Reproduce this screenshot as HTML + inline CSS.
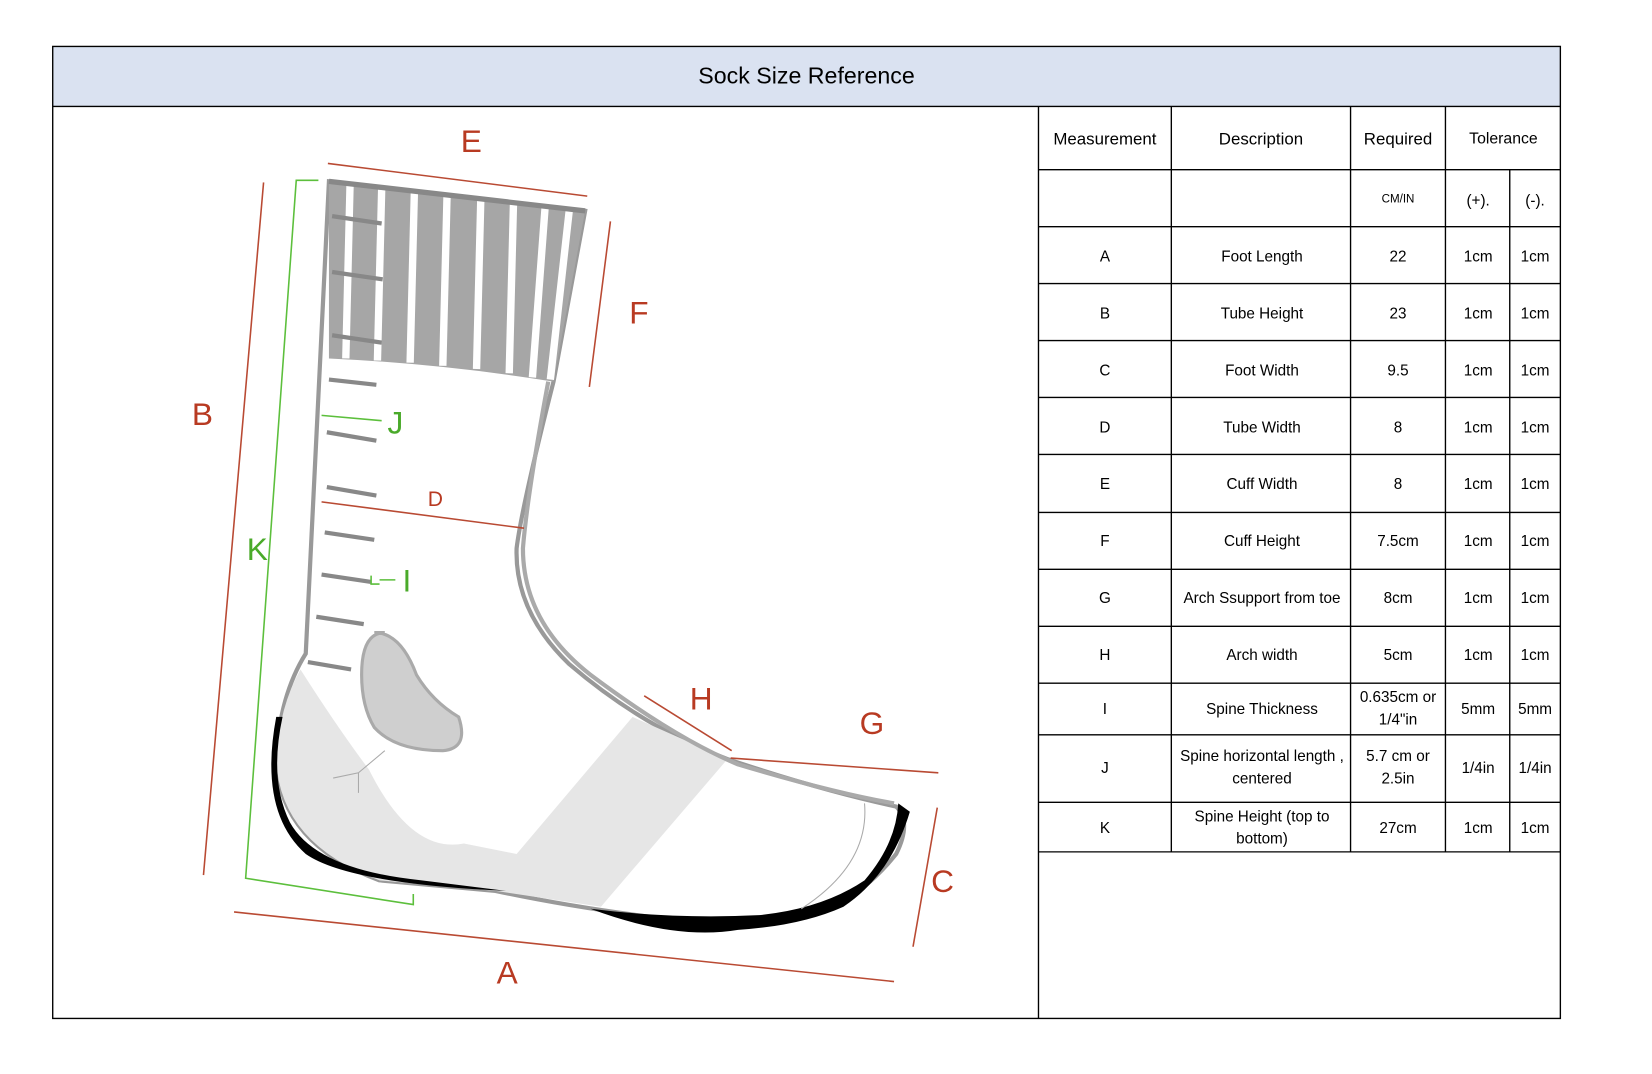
<!DOCTYPE html>
<html><head><meta charset="utf-8"><style>
html,body{margin:0;padding:0;background:#fff;width:1652px;height:1074px;overflow:hidden}
#w{position:absolute;left:0;top:0;width:1565px;height:1017px;transform:scale(1.0543);transform-origin:0 0}
svg{position:absolute;left:0;top:0}
</style></head><body><div id="w">
<svg width="1565" height="1017" viewBox="0 0 1565 1017" font-family="Liberation Sans, sans-serif">
<rect x="50" y="44" width="1430" height="57" fill="#dae2f1"/>
<g stroke="#000" stroke-width="1.3" fill="none">
<path d="M50 44H1480V966H50Z"/>
<path d="M50 101H1480"/>
<path d="M985 101V966"/>
<path d="M1111 101V808M1281 101V808M1371 101V808M1432 161V808"/>
<path d="M985 161H1480M985 215H1480M985 269H1480M985 323H1480M985 377H1480M985 431H1480M985 486H1480M985 540H1480M985 594H1480M985 648H1480M985 697H1480M985 761H1480M985 808H1480"/>
</g>
<text x="765" y="79" font-size="22" text-anchor="middle">Sock Size Reference</text>
<g font-size="16" text-anchor="middle">
<text x="1048" y="137">Measurement</text><text x="1196" y="137">Description</text><text x="1326" y="137">Required</text><text x="1426" y="136" font-size="15">Tolerance</text>
</g>
<g font-size="14.5" text-anchor="middle">
<text x="1326" y="192" font-size="11">CM/IN</text><text x="1402" y="195">(+).</text><text x="1456" y="195">(-).</text>
<text x="1048" y="248">A</text><text x="1197" y="248">Foot Length</text><text x="1326" y="248">22</text><text x="1402" y="248">1cm</text><text x="1456" y="248">1cm</text>
<text x="1048" y="302">B</text><text x="1197" y="302">Tube Height</text><text x="1326" y="302">23</text><text x="1402" y="302">1cm</text><text x="1456" y="302">1cm</text>
<text x="1048" y="356">C</text><text x="1197" y="356">Foot Width</text><text x="1326" y="356">9.5</text><text x="1402" y="356">1cm</text><text x="1456" y="356">1cm</text>
<text x="1048" y="410">D</text><text x="1197" y="410">Tube Width</text><text x="1326" y="410">8</text><text x="1402" y="410">1cm</text><text x="1456" y="410">1cm</text>
<text x="1048" y="464">E</text><text x="1197" y="464">Cuff Width</text><text x="1326" y="464">8</text><text x="1402" y="464">1cm</text><text x="1456" y="464">1cm</text>
<text x="1048" y="518">F</text><text x="1197" y="518">Cuff Height</text><text x="1326" y="518">7.5cm</text><text x="1402" y="518">1cm</text><text x="1456" y="518">1cm</text>
<text x="1048" y="572">G</text><text x="1197" y="572">Arch Ssupport from toe</text><text x="1326" y="572">8cm</text><text x="1402" y="572">1cm</text><text x="1456" y="572">1cm</text>
<text x="1048" y="626">H</text><text x="1197" y="626">Arch width</text><text x="1326" y="626">5cm</text><text x="1402" y="626">1cm</text><text x="1456" y="626">1cm</text>
<text x="1048" y="677">I</text><text x="1197" y="677">Spine Thickness</text><text x="1326" y="666">0.635cm or</text><text x="1326" y="687">1/4"in</text><text x="1402" y="677">5mm</text><text x="1456" y="677">5mm</text>
<text x="1048" y="733">J</text><text x="1197" y="722">Spine horizontal length ,</text><text x="1197" y="743">centered</text><text x="1326" y="722">5.7 cm or</text><text x="1326" y="743">2.5in</text><text x="1402" y="733">1/4in</text><text x="1456" y="733">1/4in</text>
<text x="1048" y="790">K</text><text x="1197" y="779">Spine Height (top to</text><text x="1197" y="800">bottom)</text><text x="1326" y="790">27cm</text><text x="1402" y="790">1cm</text><text x="1456" y="790">1cm</text>
</g>
<!-- sock -->
<path d="M312 172 L555 200 L525 362 Q495 480 490 520 Q488 580 540 630 Q610 690 690 720 Q780 750 850 765 Q865 780 850 810 Q810 860 760 868 Q700 880 620 870 Q540 860 470 845 L360 835 Q265 800 262 720 Q265 660 290 620 Q300 400 312 172Z" fill="#fff" stroke="#999" stroke-width="4"/>
<path d="M285 635 Q320 690 350 730 Q390 810 440 800 L490 810 L600 680 L690 720 L570 860 L470 845 L360 835 Q265 800 262 720 Q265 670 285 635Z" fill="#e6e6e6"/>
<path d="M520 362 Q500 470 496 520 Q496 590 560 640 Q640 700 700 725 Q790 752 848 762" fill="none" stroke="#aaa" stroke-width="4"/>
<path d="M312 172 L555 200 L525 362 Q420 345 312 340Z" fill="#a6a6a6"/>
<g stroke="#fff" stroke-width="7"><path d="M332 176 L328 340M362 180 L358 342M393 183 L389 344M424 186 L420 347M456 190 L452 350M487 194 L483 354M517 197 L505 358M540 199 L522 360"/></g>
<path d="M312 172 L555 200" stroke="#888" stroke-width="5"/>
<g stroke="#888" stroke-width="4" fill="none"><path d="M315 205L362 212M315 258L363 265M315 318L362 325M312 360L357 365M310 410L357 418M310 462L357 470M308 505L355 512M305 545L352 552M300 585L345 592M292 628L333 635"/></g>
<path d="M355 600 Q380 600 395 640 Q410 665 435 680 Q445 710 420 712 Q375 712 355 690 Q343 670 343 640 Q343 600 365 600Z" fill="#cfcfcf" stroke="#aaa" stroke-width="3"/>
<path d="M365 712 L340 733 L316 738 M340 733 L340 752" stroke="#aaa" fill="none"/>
<path d="M262 680 Q245 770 290 810 Q330 838 480 845 L400 835 Q300 825 275 780 Q255 740 268 680Z" fill="#000"/>
<path d="M560 862 Q640 892 700 882 Q760 878 800 860 Q845 830 863 770 L852 762 Q850 800 820 835 Q780 862 720 868 Q640 872 560 862Z" fill="#000"/>
<path d="M820 762 Q825 820 760 862" stroke="#aaa" fill="none"/>
<!-- measurement lines -->
<g stroke="#b94a33" stroke-width="1.5"><path d="M311 155L557 186M579 210L559 367M250 173L193 830M222 865L848 931M889 766L866 898M693 719L890 733M611 660L694 712M305 476L497 501"/></g>
<g stroke="#5cbf3c" stroke-width="1.5" fill="none"><path d="M302 171H281L233 833L392 858V848M305 394L362 399M352 546V554H360M360 550H375"/></g>
<g font-size="30" fill="#b83a22" text-anchor="middle">
<text x="447" y="144">E</text><text x="606" y="307">F</text><text x="192" y="403">B</text><text x="413" y="480" font-size="20">D</text><text x="665" y="673">H</text><text x="827" y="696">G</text><text x="894" y="846">C</text><text x="481" y="933">A</text>
</g>
<g font-size="30" fill="#4aaa2a" text-anchor="middle">
<text x="375" y="411">J</text><text x="244" y="531">K</text><text x="386" y="561">I</text>
</g>
</svg></div></body></html>
